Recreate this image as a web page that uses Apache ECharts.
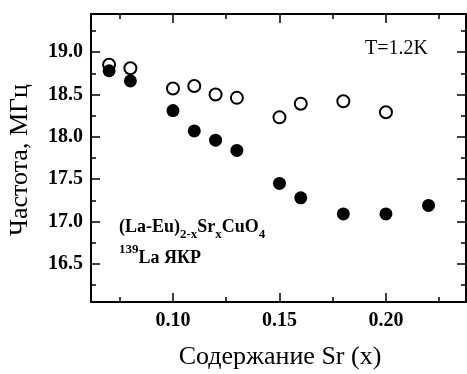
<!DOCTYPE html>
<html>
<head>
<meta charset="utf-8">
<script src="https://cdn.jsdelivr.net/npm/echarts@6/dist/echarts.min.js"></script>
<style>
  html, body { margin: 0; padding: 0; background: #fff; }
  #chart { width: 467px; height: 374px; }
</style>
</head>
<body>
<div id="chart"></div>
<script>
// Sr content x and 139La NQR frequencies (MHz)
const xOpen = [0.07, 0.08, 0.10, 0.11, 0.12, 0.13, 0.15, 0.16, 0.18, 0.20];
const freqOpen = [18.85, 18.81, 18.57, 18.60, 18.50, 18.46, 18.23, 18.39, 18.42, 18.29];
const xFilled = [0.07, 0.08, 0.10, 0.11, 0.12, 0.13, 0.15, 0.16, 0.18, 0.20, 0.22];
const freqFilled = [18.78, 18.66, 18.31, 18.07, 17.96, 17.84, 17.45, 17.28, 17.09, 17.09, 17.19];

const xMajor = [0.10, 0.15, 0.20];
const xMinor = [0.075, 0.125, 0.175, 0.225];
const yMajor = [16.5, 17.0, 17.5, 18.0, 18.5, 19.0];
const yMinor = [16.25, 16.75, 17.25, 17.75, 18.25, 18.75, 19.25];

const font = '"Liberation Serif", "DejaVu Serif", serif';
const xMin = 0.0615, xMax = 0.2376;
const yMin = 16.05, yMax = 19.45;

const chart = echarts.init(document.getElementById('chart'));

function xAx(pos, ticks, len, labels) {
  return {
    type: 'value', min: xMin, max: xMax, position: pos,
    axisLine: { show: true, onZero: false, lineStyle: { color: '#000', width: 2 } },
    axisTick: { show: true, inside: true, length: len, customValues: ticks, lineStyle: { color: '#000', width: 1.5 } },
    axisLabel: labels ? {
      show: true, customValues: ticks, margin: 9,
      fontFamily: font, fontSize: 20, fontWeight: 'bold', color: '#000',
      formatter: v => v.toFixed(2)
    } : { show: false },
    splitLine: { show: false }
  };
}
function yAx(pos, ticks, len, labels) {
  return {
    type: 'value', min: yMin, max: yMax, position: pos,
    axisLine: { show: true, onZero: false, lineStyle: { color: '#000', width: 2 } },
    axisTick: { show: true, inside: true, length: len, customValues: ticks, lineStyle: { color: '#000', width: 1.5 } },
    axisLabel: labels ? {
      show: true, customValues: ticks, margin: 8,
      fontFamily: font, fontSize: 20, fontWeight: 'bold', color: '#000',
      formatter: v => v.toFixed(1)
    } : { show: false },
    splitLine: { show: false }
  };
}

const bigFont = 'bold 18px ' + font;
const smallFont = 'bold 13px ' + font;

const option = {
  backgroundColor: '#fff',
  animation: false,
  grid: { left: 91, right: 1, top: 14, bottom: 72 },
  xAxis: [
    xAx('bottom', xMajor, 9, true),
    xAx('bottom', xMinor, 5, false),
    xAx('top', xMajor, 9, false),
    xAx('top', xMinor, 5, false)
  ],
  yAxis: [
    yAx('left', yMajor, 9, true),
    yAx('left', yMinor, 5, false),
    yAx('right', yMajor, 9, false),
    yAx('right', yMinor, 5, false)
  ],
  graphic: [
    {
      type: 'text', x: 280, y: 357,
      style: { text: 'Содержание Sr (x)', font: 'normal 26px ' + font, fill: '#000', textAlign: 'center', textVerticalAlign: 'middle' }
    },
    {
      type: 'text', x: 20, y: 160, rotation: Math.PI / 2,
      style: { text: 'Частота, МГц', font: 'normal 26px ' + font, fill: '#000', textAlign: 'center', textVerticalAlign: 'middle' }
    },
    {
      type: 'text', x: 365, y: 49,
      style: { text: 'T=1.2K', font: 'normal 20px ' + font, fill: '#000', textVerticalAlign: 'middle' }
    },
    {
      type: 'text', x: 119, y: 218,
      style: {
        text: '{m|(La-Eu)}{s|2-x}{m|Sr}{s|x}{m|CuO}{s|4}',
        rich: {
          m: { font: bigFont, fill: '#000', lineHeight: 18, verticalAlign: 'top' },
          s: { font: smallFont, fill: '#000', lineHeight: 13, padding: [10, 0, 0, 0], verticalAlign: 'top' }
        }
      }
    },
    {
      type: 'text', x: 119, y: 243,
      style: {
        text: '{p|139}{m|La ЯКР}',
        rich: {
          p: { font: smallFont, fill: '#000', lineHeight: 13, verticalAlign: 'top' },
          m: { font: bigFont, fill: '#000', lineHeight: 18, padding: [6, 0, 0, 0], verticalAlign: 'top' }
        }
      }
    }
  ],
  series: [
    {
      type: 'scatter', xAxisIndex: 0, yAxisIndex: 0,
      symbol: 'circle', symbolSize: 12,
      itemStyle: { color: '#fff', borderColor: '#000', borderWidth: 2, opacity: 1 },
      data: xOpen.map((x, i) => [x, freqOpen[i]])
    },
    {
      type: 'scatter', xAxisIndex: 0, yAxisIndex: 0,
      symbol: 'circle', symbolSize: 13,
      itemStyle: { color: '#000', opacity: 1 },
      data: xFilled.map((x, i) => [x, freqFilled[i]])
    }
  ]
};
chart.setOption(option);
</script>
</body>
</html>
